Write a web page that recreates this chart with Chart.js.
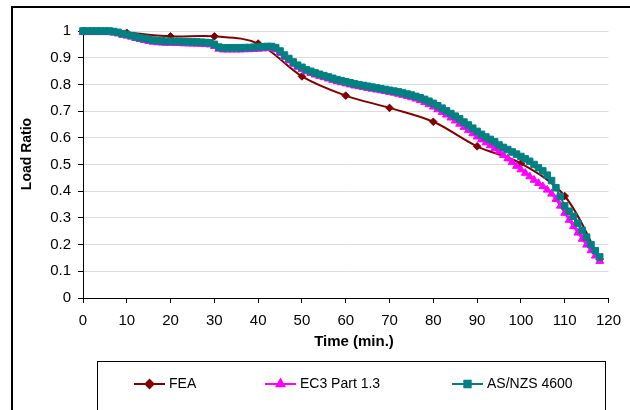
<!DOCTYPE html>
<html>
<head>
<meta charset="utf-8">
<script src="https://cdn.jsdelivr.net/npm/chart.js@4/dist/chart.umd.min.js"></script>
<style>
html,body{margin:0;padding:0;background:#fff;overflow:hidden;width:630px;height:410px}
#wrap{width:630px;height:410px;position:relative;overflow:hidden}
#frame{position:absolute;left:11px;top:6px;width:700px;height:500px;border-left:2px solid #000;border-top:2px solid #000}
#legendBox{position:absolute;left:97px;top:361px;width:507px;height:80px;border:1px solid #000}
canvas{display:block;position:absolute;left:0;top:0}
</style>
</head>
<body>
<div id="wrap">
  <div id="frame"></div>
  <div id="legendBox"></div>
  <canvas id="chart" width="630" height="410"></canvas>
</div>
<script>
// --- Data ---
const feaTime = [0, 10, 20, 30, 40, 50, 60, 70, 80, 90, 100, 110, 118];
const feaLoad = [1, 0.993, 0.98, 0.98, 0.953, 0.83, 0.758, 0.712, 0.66, 0.568, 0.504, 0.382, 0.145];

const codeTime = [
  0, 1, 2, 3, 4, 5, 6, 7, 8, 9, 10, 11, 12, 13, 14, 15, 16, 17, 18, 19,
  20, 21, 22, 23, 24, 25, 26, 27, 28, 29, 30, 31, 32, 33, 34, 35, 36, 37, 38, 39,
  40, 41, 42, 43, 44, 45, 46, 47, 48, 49, 50, 51, 52, 53, 54, 55, 56, 57, 58, 59,
  60, 61, 62, 63, 64, 65, 66, 67, 68, 69, 70, 71, 72, 73, 74, 75, 76, 77, 78, 79,
  80, 81, 82, 83, 84, 85, 86, 87, 88, 89, 90, 91, 92, 93, 94, 95, 96, 97, 98, 99,
  100, 101, 102, 103, 104, 105, 106, 107, 108, 109, 110, 111, 112, 113, 114, 115, 116, 117, 118
];
const ec3Load = [
  0.995, 0.995, 0.995, 0.995, 0.995, 0.995, 0.995, 0.993, 0.99, 0.985,
  0.982, 0.978, 0.973, 0.969, 0.965, 0.962, 0.959, 0.957, 0.956, 0.955,
  0.955, 0.954, 0.954, 0.953, 0.953, 0.952, 0.952, 0.951, 0.95, 0.949,
  0.943, 0.933, 0.93, 0.93, 0.93, 0.93, 0.93, 0.931, 0.931, 0.932,
  0.933, 0.934, 0.935, 0.935, 0.93, 0.917, 0.902, 0.889, 0.876, 0.865,
  0.856, 0.848, 0.842, 0.836, 0.831, 0.826, 0.821, 0.816, 0.811, 0.807,
  0.803, 0.799, 0.795, 0.792, 0.789, 0.786, 0.783, 0.78, 0.777, 0.774,
  0.771, 0.768, 0.764, 0.76, 0.756, 0.751, 0.746, 0.74, 0.733, 0.725,
  0.716, 0.706, 0.696, 0.686, 0.675, 0.664, 0.652, 0.64, 0.628, 0.616,
  0.604, 0.593, 0.582, 0.571, 0.56, 0.549, 0.535, 0.522, 0.508, 0.494,
  0.481, 0.468, 0.455, 0.442, 0.43, 0.418, 0.405, 0.39, 0.37, 0.345,
  0.318, 0.292, 0.268, 0.244, 0.221, 0.199, 0.178, 0.158, 0.138
];
const asnzsLoad = [
  1, 1, 1, 1, 1, 1, 1, 0.998, 0.995, 0.99,
  0.987, 0.983, 0.978, 0.975, 0.972, 0.969, 0.966, 0.964, 0.963, 0.962,
  0.962, 0.961, 0.961, 0.96, 0.96, 0.959, 0.959, 0.958, 0.957, 0.956,
  0.95, 0.94, 0.937, 0.937, 0.937, 0.937, 0.937, 0.938, 0.938, 0.939,
  0.94, 0.941, 0.942, 0.942, 0.938, 0.925, 0.91, 0.897, 0.884, 0.872,
  0.864, 0.855, 0.849, 0.843, 0.838, 0.833, 0.828, 0.823, 0.818, 0.814,
  0.81, 0.806, 0.802, 0.799, 0.796, 0.793, 0.79, 0.787, 0.784, 0.781,
  0.778, 0.775, 0.772, 0.768, 0.764, 0.76, 0.755, 0.75, 0.744, 0.737,
  0.729, 0.72, 0.711, 0.701, 0.691, 0.681, 0.671, 0.659, 0.648, 0.636,
  0.624, 0.613, 0.603, 0.594, 0.585, 0.573, 0.564, 0.556, 0.547, 0.539,
  0.53, 0.521, 0.512, 0.5, 0.488, 0.476, 0.46, 0.44, 0.413, 0.38,
  0.345, 0.325, 0.306, 0.28, 0.253, 0.228, 0.2, 0.177, 0.154
];

const xTicks = [0, 10, 20, 30, 40, 50, 60, 70, 80, 90, 100, 110, 120];
const seriesNames = ['FEA', 'EC3 Part 1.3', 'AS/NZS 4600'];
const seriesColors = ['#800000', '#ff00ff', '#008080'];
const seriesMarkers = ['rectRot', 'triangle', 'rect'];

const pts = (xs, ys) => xs.map((x, i) => ({x: x, y: ys[i]}));
const FONT = "'Liberation Sans', Arial, sans-serif";

// --- Extras: axis titles, legend entries ---
const extras = {
  id: 'extras',
  afterDraw(chart){
    const ctx = chart.ctx;
    ctx.save();
    ctx.fillStyle = '#000';
    ctx.font = 'bold 15px ' + FONT;
    ctx.textAlign = 'center'; ctx.textBaseline = 'middle';
    ctx.fillText('Time (min.)', 354, 342);

    ctx.save();
    ctx.translate(27, 154); ctx.rotate(-Math.PI/2);
    ctx.font = 'bold 14px ' + FONT;
    ctx.fillText('Load Ratio', 0, 0);
    ctx.restore();

    const lx = [134, 265, 452];
    ctx.font = '14px ' + FONT;
    ctx.textAlign = 'left';
    seriesNames.forEach((name, i) => {
      const y = 384;
      ctx.strokeStyle = seriesColors[i]; ctx.lineWidth = 2;
      ctx.beginPath(); ctx.moveTo(lx[i], y); ctx.lineTo(lx[i] + 31, y); ctx.stroke();
      ctx.fillStyle = seriesColors[i];
      Chart.helpers.drawPoint(ctx, {pointStyle: seriesMarkers[i], radius: i === 0 ? 4 : 4.5, borderWidth: 1}, lx[i] + 15.5, y);
      ctx.fill();
      ctx.fillStyle = '#000';
      ctx.fillText(name, lx[i] + 35, y);
    });
    ctx.restore();
  }
};

const ds = (i, data, radius, tension) => ({
  label: seriesNames[i], data: data,
  borderColor: seriesColors[i], backgroundColor: seriesColors[i],
  pointBackgroundColor: seriesColors[i], pointBorderColor: seriesColors[i],
  pointStyle: seriesMarkers[i], pointRadius: radius, pointBorderWidth: 1,
  borderWidth: 2, tension: tension, clip: false
});

// Excel order: FEA at the bottom, AS/NZS on top
new Chart(document.getElementById('chart'), {
  type: 'line',
  data: {
    datasets: [
      Object.assign(ds(0, pts(feaTime, feaLoad), 3.8, 0.35), {order: 2}),
      Object.assign(ds(1, pts(codeTime, ec3Load), 4.5, 0), {order: 1}),
      Object.assign(ds(2, pts(codeTime, asnzsLoad), 4.6, 0), {order: 0})
    ]
  },
  options: {
    responsive: false, animation: false, devicePixelRatio: 1,
    layout: {padding: {left: 0, top: 31, right: 12, bottom: 0}},
    plugins: {legend: {display: false}, tooltip: {enabled: false}},
    scales: {
      x: {
        type: 'linear', min: 0, max: 120,
        afterBuildTicks: s => { s.ticks = xTicks.map(v => ({value: v})); },
        afterFit: s => { s.height = 112; },
        grid: {drawOnChartArea: false, drawTicks: true, tickLength: 5, tickColor: '#000'},
        border: {color: '#000', width: 1},
        ticks: {color: '#000', font: {family: FONT, size: 15}, padding: 9, maxRotation: 0}
      },
      y: {
        min: 0, max: 1,
        afterFit: s => { s.width = 83; },
        grid: {color: '#dcdcdc', lineWidth: 1, drawTicks: true, tickLength: 5, tickColor: '#000'},
        border: {color: '#000', width: 1},
        ticks: {stepSize: 0.1, color: '#000', font: {family: FONT, size: 15}, padding: 7,
          callback: v => String(Math.round(v * 10) / 10)}
      }
    }
  },
  plugins: [extras]
});
</script>
</body>
</html>
